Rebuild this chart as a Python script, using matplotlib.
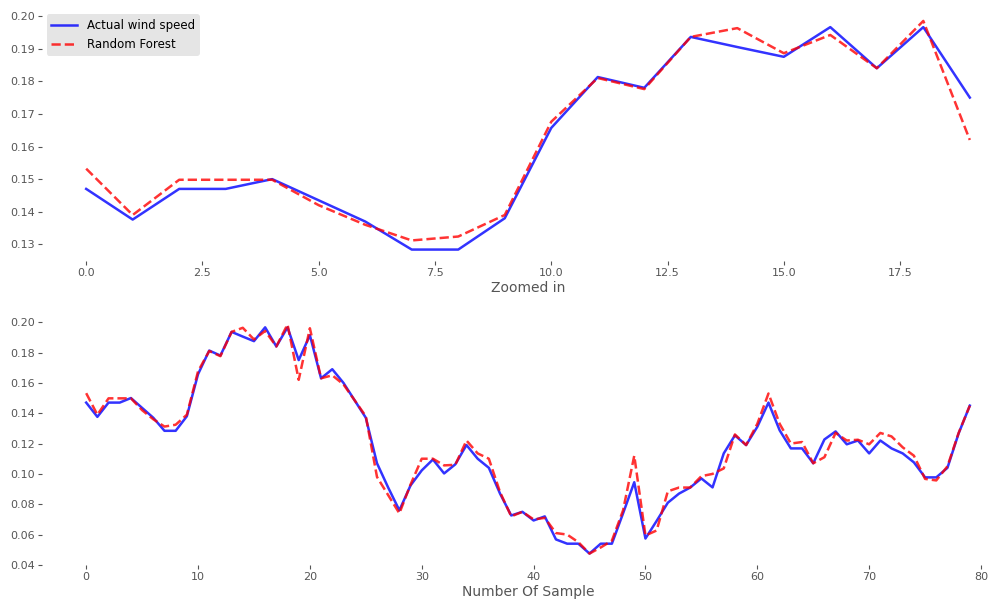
import numpy as np
import matplotlib
matplotlib.use("Agg")
import matplotlib.pyplot as plt

plt.rcParams['font.family'] = ['Liberation Sans Narrow', 'DejaVu Sans Condensed', 'DejaVu Sans']

# Wind speed series (normalised), 80 test samples
actual = [
    0.147, 0.1376, 0.147, 0.147, 0.150, 0.1435, 0.137, 0.1284, 0.1284, 0.138,
    0.1657, 0.1813, 0.178, 0.1936, 0.1905, 0.1875, 0.1966, 0.184, 0.1966, 0.175,
    0.1914, 0.163, 0.169, 0.160, 0.1485, 0.137, 0.107, 0.091, 0.076, 0.0924,
    0.1023, 0.1095, 0.1003, 0.1063, 0.119, 0.110, 0.104, 0.087, 0.0726, 0.075,
    0.0693, 0.072, 0.0568, 0.054, 0.054, 0.0475, 0.054, 0.054, 0.074, 0.0945,
    0.0574, 0.069, 0.081, 0.087, 0.091, 0.097, 0.0911, 0.1135, 0.1254, 0.119,
    0.131, 0.147, 0.1287, 0.1168, 0.1168, 0.107, 0.1227, 0.128, 0.1195, 0.122,
    0.1135, 0.122, 0.1168, 0.1135, 0.1076, 0.0977, 0.0977, 0.104, 0.1267, 0.145,
]
random_forest = [
    0.1532, 0.139, 0.1498, 0.1498, 0.1498, 0.142, 0.136, 0.1312, 0.1324, 0.139,
    0.1676, 0.181, 0.1776, 0.1936, 0.1963, 0.1886, 0.1942, 0.184, 0.1985, 0.162,
    0.196, 0.163, 0.165, 0.159, 0.1485, 0.138, 0.098, 0.086, 0.074, 0.093,
    0.110, 0.110, 0.1056, 0.106, 0.122, 0.1135, 0.110, 0.088, 0.072, 0.075,
    0.070, 0.071, 0.061, 0.060, 0.055, 0.0475, 0.0515, 0.056, 0.076, 0.112,
    0.0594, 0.0627, 0.0885, 0.091, 0.091, 0.0985, 0.100, 0.1036, 0.126, 0.119,
    0.133, 0.153, 0.133, 0.120, 0.121, 0.107, 0.111, 0.127, 0.122, 0.1225,
    0.1195, 0.127, 0.1247, 0.1175, 0.112, 0.0967, 0.0957, 0.105, 0.127, 0.145,
]
n_zoom = 20

W, H = 997, 610
fig = plt.figure(figsize=(W / 100, H / 100), dpi=100)
fig.patch.set_facecolor('white')

left = 42 / W
width = (1014 - 42) / W
ax1 = fig.add_axes([left, 1 - 261 / H, width, 251.5 / H])
ax2 = fig.add_axes([left, 1 - 565 / H, width, 252 / H])

tick_color = '#555555'


def style(ax):
    ax.set_facecolor('white')
    for s in ax.spines.values():
        s.set_visible(False)
    ax.grid(False)
    ax.tick_params(axis='both', colors=tick_color, labelcolor=tick_color,
                   labelsize=8, length=3, width=0.8, pad=2)


x_zoom = np.arange(n_zoom)
ax1.plot(x_zoom, actual[:n_zoom], color='blue', lw=1.8, alpha=0.8, label='Actual wind speed')
ax1.plot(x_zoom, random_forest[:n_zoom], color='red', lw=1.8, ls='--', alpha=0.8, label='Random Forest')
style(ax1)
ax1.set_xticks(np.arange(0, 20, 2.5))
ax1.set_yticks(np.arange(0.13, 0.2001, 0.01))
ax1.set_yticklabels([f'{v:.2f}' for v in np.arange(0.13, 0.2001, 0.01)])
ax1.set_xlabel('Zoomed in', color=tick_color, fontsize=10, labelpad=2)
leg = ax1.legend(loc='upper left', fontsize=8.5, frameon=True, handlelength=2.2,
                 borderaxespad=0.4, framealpha=1)
leg.get_frame().set_facecolor('#e5e5e5')
leg.get_frame().set_edgecolor('none')

x_all = np.arange(len(actual))
ax2.plot(x_all, actual, color='blue', lw=1.8, alpha=0.8)
ax2.plot(x_all, random_forest, color='red', lw=1.8, ls='--', alpha=0.8)
style(ax2)
ax2.set_xticks(np.arange(0, 81, 10))
ax2.set_yticks(np.arange(0.04, 0.2001, 0.02))
ax2.set_yticklabels([f'{v:.2f}' for v in np.arange(0.04, 0.2001, 0.02)])
ax2.set_xlabel('Number Of Sample', color=tick_color, fontsize=10, labelpad=2)

fig.savefig('out.png', dpi=100, facecolor='white')
